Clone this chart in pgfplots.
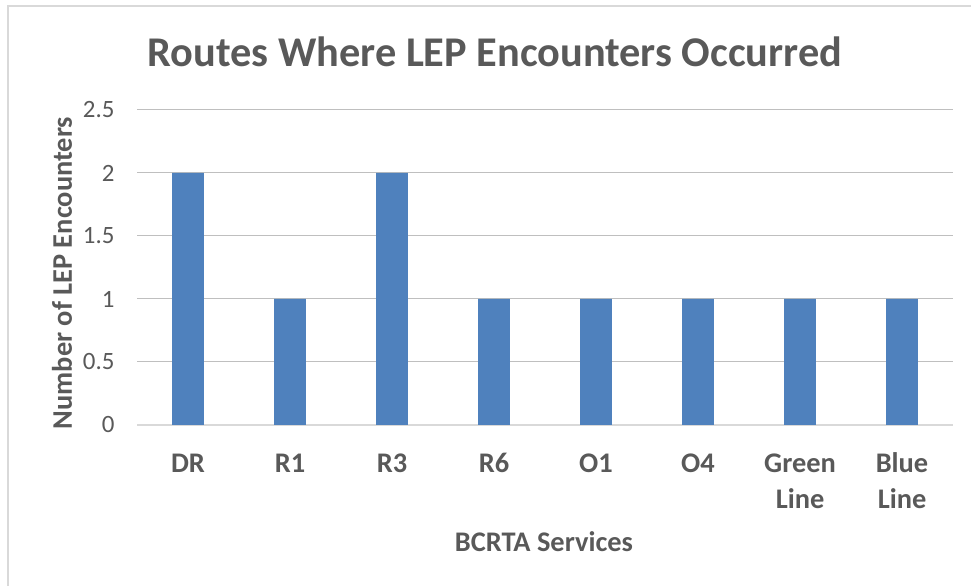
\documentclass[border=0pt]{standalone}
\usepackage{pgfplots}
\pgfplotsset{compat=1.18}
\usepackage{fontspec}
\setmainfont{Carlito}
\definecolor{barblue}{RGB}{79,129,189}
\definecolor{txt}{RGB}{89,89,89}
\definecolor{grid}{RGB}{217,217,217}
\begin{document}
\begin{tikzpicture}[x=1bp,y=1bp]
\useasboundingbox (0,0) rectangle (971,586);
\draw[grid, line width=1.2bp] (8,-5) -- (8,580) -- (980,580);
\begin{axis}[
  at={(137bp,161bp)}, anchor=south west,
  scale only axis, width=816bp, height=315bp,
  xmin=-0.5, xmax=7.5, ymin=0, ymax=2.5,
  axis line style={draw=none},
  ytick={0,0.5,1,1.5,2,2.5},
  yticklabels={0,0.5,1,1.5,2,2.5},
  xmajorgrids=false, ymajorgrids=true, grid style={grid, line width=1bp},
  major tick length=0pt,
  yticklabel style={font=\fontsize{25}{27}\selectfont, text=txt, xshift=-19bp},
  xtick=data,
  xticklabels={{\strut DR},{\strut R1},{\strut R3},{\strut R6},{\strut O1},{\strut O4},{\strut Green\\\strut Line},{\strut Blue\\\strut Line}},
  xticklabel style={font=\bfseries\fontsize{28.5}{36}\selectfont, text=txt, align=center, yshift=-22bp, anchor=north, inner ysep=0pt},
  bar width=0.31,
  clip=false,
]
\draw[grid, line width=1.5bp] (axis cs:-0.5,0) -- (axis cs:7.5,0);
\addplot[ybar, fill=barblue, draw=none] coordinates {(0,2) (1,1) (2,2) (3,1) (4,1) (5,1) (6,1) (7,1)};
\end{axis}
\node[font=\bfseries\fontsize{42.5}{45}\selectfont, text=txt] at (495,534) {Routes Where LEP Encounters Occurred};
\node[font=\bfseries\fontsize{28.5}{30}\selectfont, text=txt] at (544,44) {BCRTA Services};
\node[font=\bfseries\fontsize{28.5}{30}\selectfont, text=txt, rotate=90] at (62,313) {Number of LEP Encounters};
\end{tikzpicture}
\end{document}
